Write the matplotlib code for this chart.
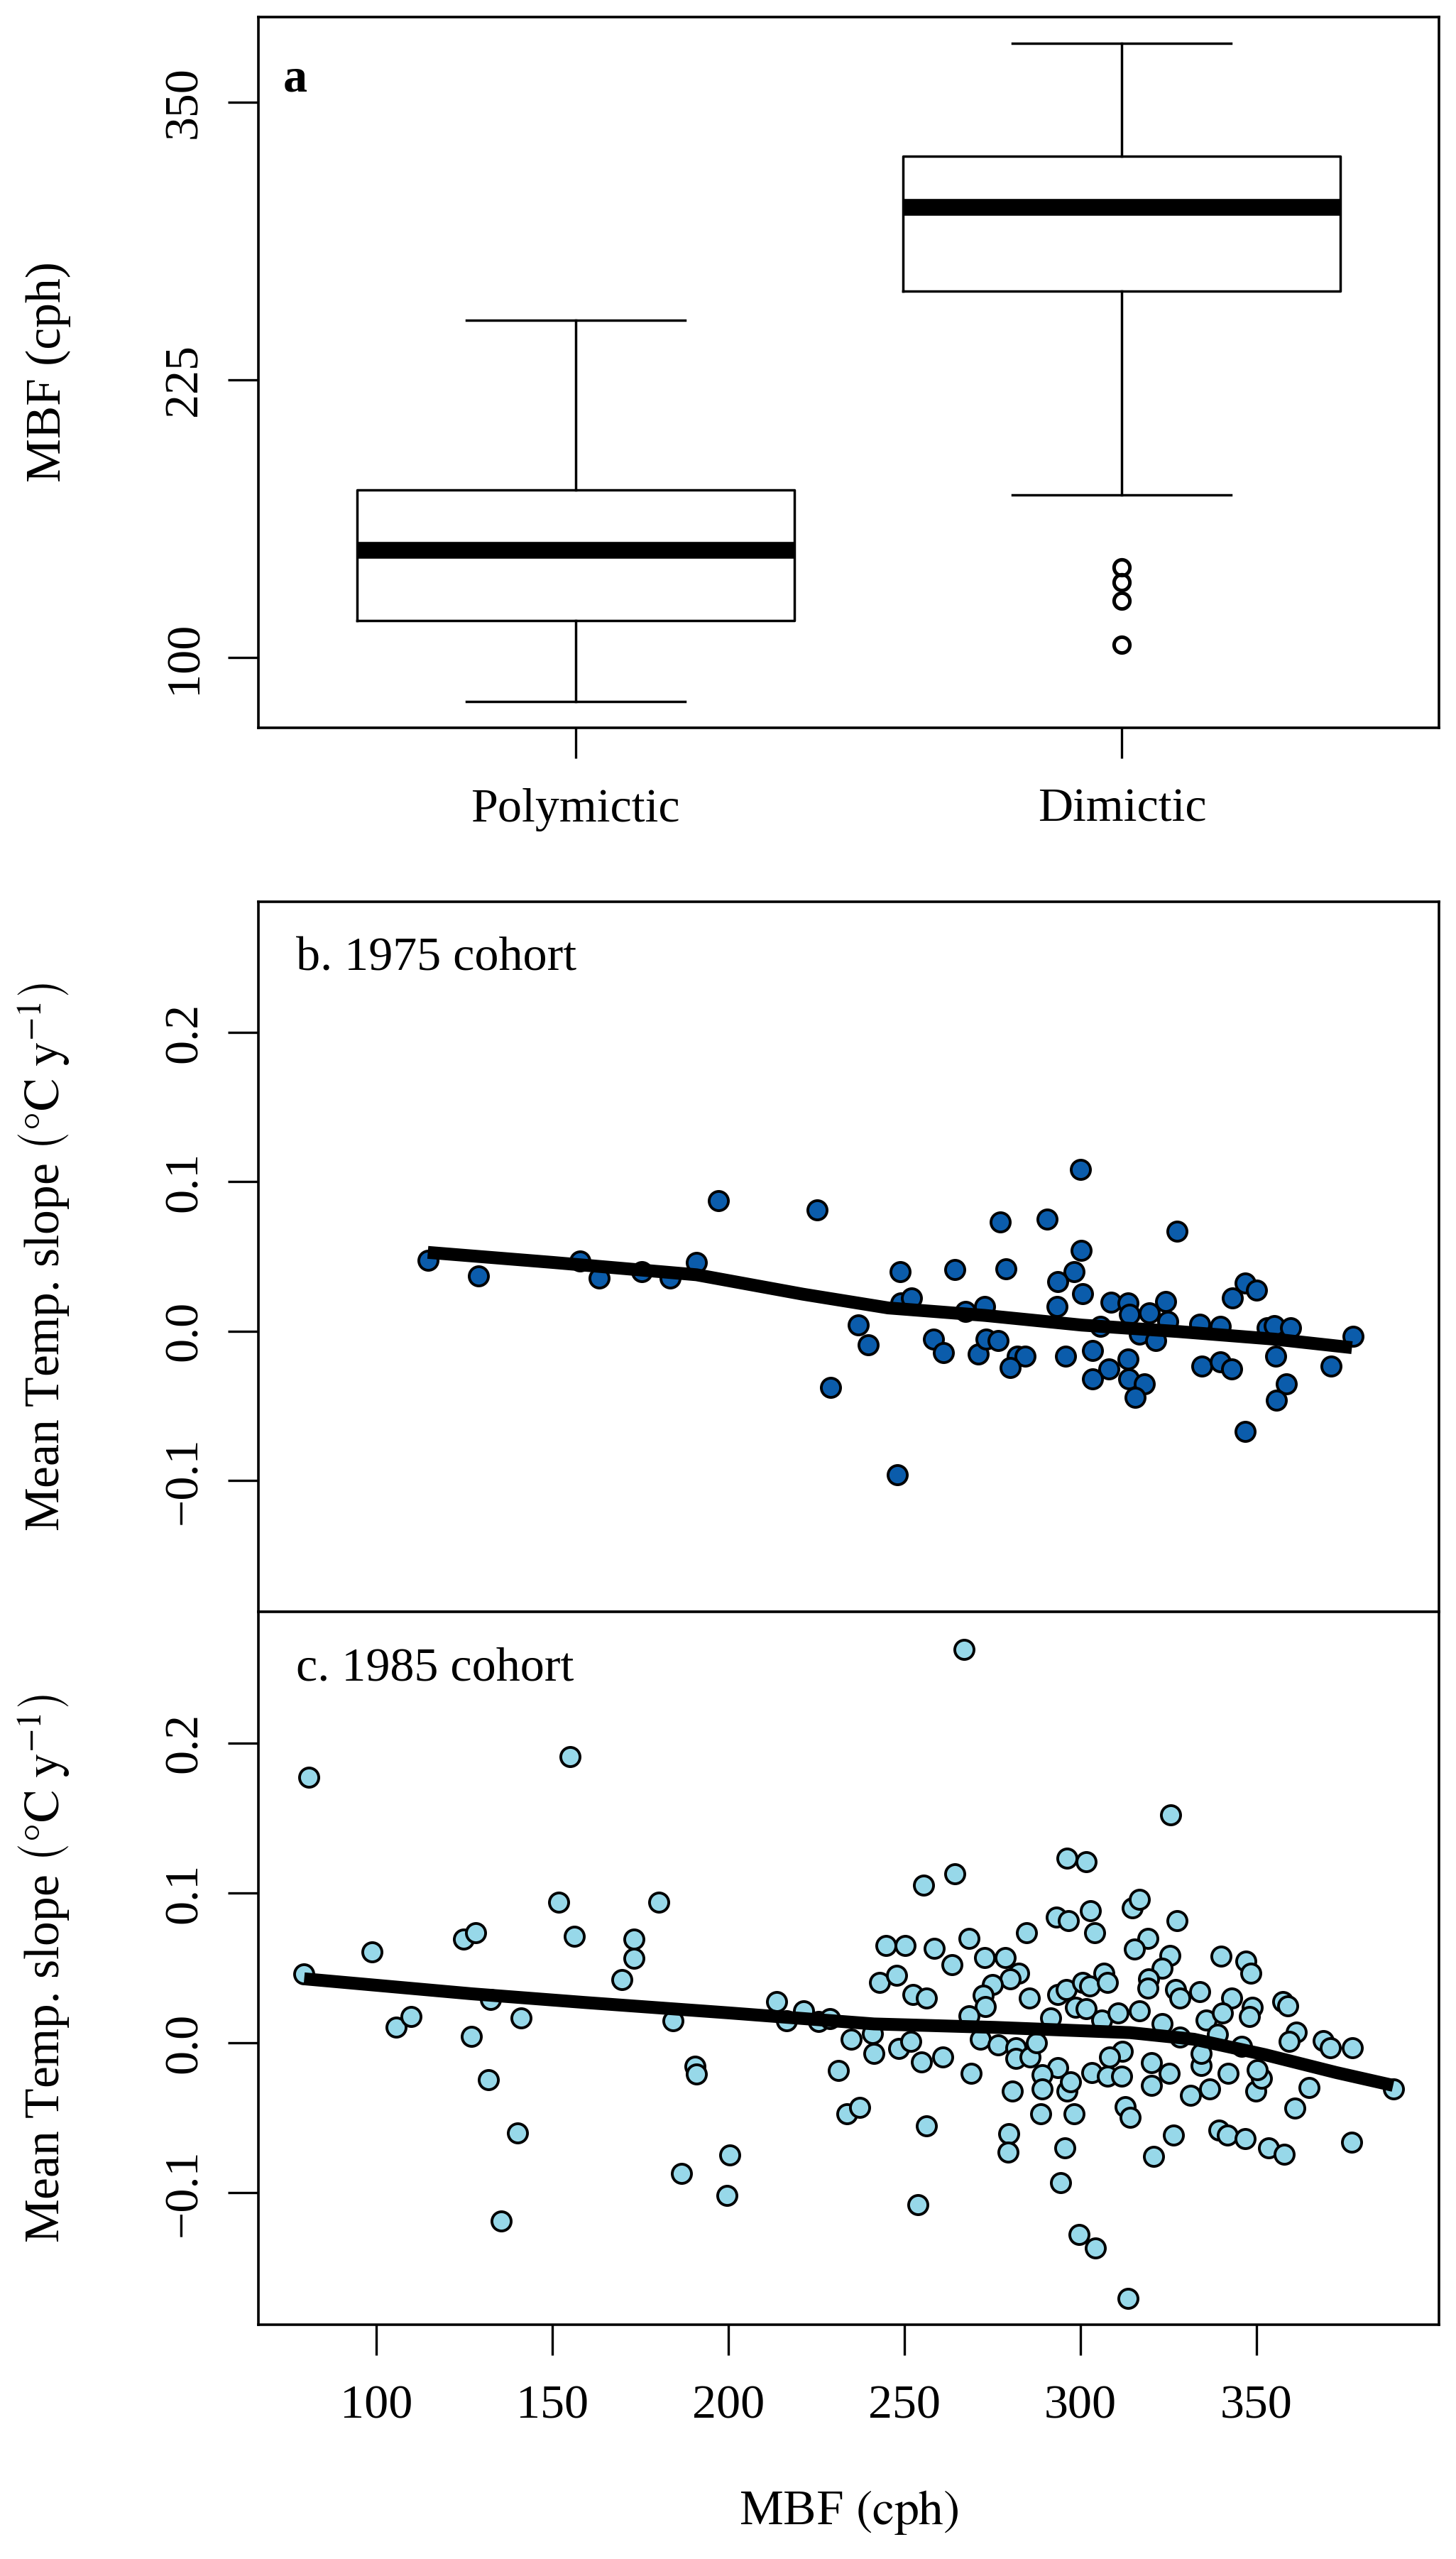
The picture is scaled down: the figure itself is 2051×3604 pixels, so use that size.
import numpy as np
import matplotlib
matplotlib.use("Agg")
import matplotlib.pyplot as plt

plt.rcParams['font.family'] = ['Liberation Serif', 'DejaVu Serif']
plt.rcParams['mathtext.fontset'] = 'stix'
plt.rcParams['axes.unicode_minus'] = True

# ---------------- Panel a: box plot of MBF by mixing type ----------------
mixing_types = ['Polymictic', 'Dimictic']
box_whislo = [80.3, 173.2]
box_q1 = [116.8, 265.0]
box_med = [148.5, 302.6]
box_q3 = [175.5, 325.7]
box_whishi = [252.0, 376.5]
polymictic_outliers = []
dimictic_outliers = [140.7, 133.9, 125.6, 106.0]

# ---------------- Panel b: 1975 cohort ----------------
b_mbf = [114.7, 129.1, 157.9, 163.3, 175.4, 183.5, 191.0, 197.3, 225.3, 237.0,
         239.7, 229.1, 248.1, 248.9, 249.0, 252.0, 264.3, 278.8, 277.2, 290.5,
         300.0, 327.4, 300.3, 298.2, 293.6, 300.7, 293.4, 267.3, 272.8, 258.2,
         261.1, 271.0, 273.3, 276.7, 282.0, 284.2, 280.1, 295.7, 303.5, 305.7,
         308.7, 313.5, 314.0, 319.5, 324.2, 324.9, 316.7, 321.3, 313.5, 308.0,
         303.5, 313.8, 318.1, 315.6, 333.9, 339.7, 334.5, 339.7, 343.0, 343.2,
         346.7, 349.9, 353.1, 355.1, 359.7, 355.4, 358.5, 355.6, 346.7, 371.1,
         377.5]
b_slope = [0.0472, 0.0369, 0.047, 0.0355, 0.040, 0.0355, 0.0458, 0.0872, 0.081, 0.0042,
           -0.0091, -0.0378, -0.0962, 0.0397, 0.0189, 0.0222, 0.0414, 0.0417, 0.0731, 0.0751,
           0.1084, 0.0667, 0.0539, 0.0397, 0.033, 0.025, 0.0163, 0.013, 0.0163, -0.0053,
           -0.0145, -0.0154, -0.0054, -0.0062, -0.0167, -0.017, -0.0245, -0.017, -0.0128, 0.003,
           0.0194, 0.0189, 0.0113, 0.0122, 0.020, 0.0063, -0.002, -0.0062, -0.0186, -0.0253,
           -0.032, -0.032, -0.0354, -0.0446, 0.0047, 0.0033, -0.0237, -0.0204, -0.0253, 0.0222,
           0.0322, 0.0272, 0.0022, 0.0038, 0.0022, -0.017, -0.0354, -0.0462, -0.067, -0.0234,
           -0.0036]
b_smooth_x = [114.7, 150.0, 191.0, 221.2, 245.4, 272.8, 300.4, 327.7, 355.1, 377.1]
b_smooth_y = [0.0527, 0.0460, 0.0377, 0.0247, 0.0155, 0.0105, 0.0040, -0.0003, -0.0054, -0.0111]

# ---------------- Panel c: 1985 cohort ----------------
c_mbf = [81.0, 79.6, 98.9, 155.0, 151.8, 156.3, 180.3, 124.8, 128.3, 173.2,
         173.2, 169.8, 105.8, 109.9, 132.6, 141.1, 127.0, 132.0, 140.2, 135.5,
         184.4, 190.6, 191.0, 200.4, 186.7, 199.7, 213.8, 216.5, 221.3, 225.6,
         228.8, 235.0, 231.2, 233.6, 237.3,
         255.5, 264.4, 296.2, 301.6, 284.6, 293.2, 296.5, 302.8, 304.0, 244.7,
         250.2, 258.5, 263.6, 268.3, 272.7, 278.7, 282.4, 280.1, 275.0, 272.3,
         273.0, 268.3, 243.0, 247.8, 252.5, 256.2, 285.4, 293.5, 295.9, 300.6,
         302.6, 306.6, 307.7, 298.6, 301.6, 291.5, 306.0, 310.7, 241.0, 241.4,
         248.4, 251.8, 254.8, 260.9, 269.0, 271.6, 276.7, 281.7, 281.7, 285.8,
         287.5, 293.5, 289.2, 289.2, 296.2, 297.2, 303.3, 307.7, 311.7, 312.0,
         308.3, 280.7, 279.7, 279.4, 288.8, 298.2, 295.5, 256.2, 312.7,
         294.3, 253.9, 299.6, 304.3, 313.6, 266.9, 325.7,
         314.7, 316.7, 327.5, 319.1, 315.4, 325.5, 340.0, 347.0, 348.4, 323.1,
         319.4, 319.1, 327.1, 328.2, 333.9, 343.0, 348.7, 348.0, 357.5, 358.8,
         316.7, 323.1, 335.6, 340.3, 361.2, 359.2, 368.9, 370.9, 377.3, 388.8,
         364.9, 360.8, 377.0, 349.7, 351.4, 342.0, 336.6, 331.2, 334.2, 334.2,
         325.2, 320.1, 320.1, 314.1, 326.5, 320.8, 339.3, 341.7, 346.7, 353.5,
         357.8, 328.2, 339.0, 345.8, 350.1]
c_slope = [0.177, 0.046, 0.0605, 0.191, 0.094, 0.071, 0.094, 0.069, 0.0735, 0.069,
           0.0565, 0.042, 0.0106, 0.0174, 0.029, 0.0168, 0.0045, -0.0248, -0.060, -0.1187,
           0.0146, -0.0156, -0.021, -0.075, -0.087, -0.1018, 0.0277, 0.0146, 0.0212, 0.014,
           0.016, 0.0025, -0.0184, -0.0472, -0.0429,
           0.105, 0.1127, 0.1232, 0.1209, 0.0735, 0.0837, 0.0814, 0.088, 0.0735, 0.0648,
           0.0648, 0.0632, 0.0521, 0.0695, 0.0569, 0.0569, 0.0466, 0.0427, 0.0387, 0.0316,
           0.0242, 0.0182, 0.0403, 0.045, 0.0324, 0.030, 0.030, 0.0324, 0.0355, 0.0403,
           0.0379, 0.0466, 0.0403, 0.0237, 0.0229, 0.0166, 0.015, 0.0198, 0.0063, -0.0071,
           -0.004, 0.0008, -0.0126, -0.0095, -0.0205, 0.0024, -0.0016, -0.0032, -0.0103, -0.0095,
           0.0, -0.0166, -0.0213, -0.0308, -0.0324, -0.0261, -0.0198, -0.0221, -0.0221, -0.0055,
           -0.0095, -0.0324, -0.0608, -0.0727, -0.0474, -0.0474, -0.0703, -0.0553, -0.0427,
           -0.0933, -0.1079, -0.1278, -0.137, -0.1706, 0.2622, 0.1521,
           0.090, 0.0956, 0.0814, 0.0695, 0.0624, 0.0584, 0.0577, 0.0545, 0.0466, 0.0498,
           0.0427, 0.0363, 0.0355, 0.030, 0.034, 0.030, 0.0237, 0.0174, 0.0276, 0.0245,
           0.0213, 0.0127, 0.015, 0.0198, 0.0071, 0.0008, 0.0016, -0.0032, -0.0032, -0.0308,
           -0.030, -0.0435, -0.0664, -0.0324, -0.0237, -0.0205, -0.0308, -0.0348, -0.015, -0.0071,
           -0.0205, -0.0134, -0.0284, -0.0498, -0.0616, -0.0758, -0.0584, -0.0616, -0.064, -0.0703,
           -0.0743, 0.0039, 0.0055, -0.0024, -0.0182]
c_smooth_x = [79.6, 127.2, 159.3, 200.0, 241.4, 275.7, 314.1, 332.2, 352.4, 372.6, 388.8]
c_smooth_y = [0.0427, 0.0327, 0.0269, 0.0200, 0.0126, 0.0103, 0.0068, 0.0024, -0.0079, -0.0198, -0.0284]

slope_yticks = [-0.1, 0.0, 0.1, 0.2]
mbf_xticks = [100, 150, 200, 250, 300, 350]
mbf_box_yticks = [100, 225, 350]

col_1975 = '#0b5cab'
col_1985 = '#97d8e9'

# ---------------- figure ----------------
W, H = 2051, 3604
fig = plt.figure(figsize=(W / 200, H / 200), dpi=200)

L, R = 364, 2027


def rect(top, bottom):
    return [L / W, 1 - bottom / H, (R - L) / W, (bottom - top) / H]


axA = fig.add_axes(rect(24, 1025))
axB = fig.add_axes(rect(1270, 2270))
axC = fig.add_axes(rect(2270, 3274))

FS = 24.5
tick_kw = dict(direction='out', length=15.5, width=1.2, labelsize=FS)

for ax in (axA, axB, axC):
    for sp in ax.spines.values():
        sp.set_linewidth(1.3)
    ax.tick_params(**tick_kw)

# Panel a
stats = []
fliers = [polymictic_outliers, dimictic_outliers]
for i, name in enumerate(mixing_types):
    stats.append(dict(label=name, whislo=box_whislo[i], q1=box_q1[i], med=box_med[i],
                      q3=box_q3[i], whishi=box_whishi[i], fliers=fliers[i]))
pos = np.arange(1, len(mixing_types) + 1)
axA.bxp(stats, positions=pos, widths=0.8, capwidths=0.4, showfliers=True,
        boxprops=dict(color='black', linewidth=1.25),
        whiskerprops=dict(color='black', linewidth=1.25),
        capprops=dict(color='black', linewidth=1.25),
        medianprops=dict(color='black', linewidth=8.5, solid_capstyle='butt'),
        flierprops=dict(marker='o', markerfacecolor='none', markeredgecolor='black',
                        markersize=8, markeredgewidth=1.8))
n = len(mixing_types)
axA.set_xlim(0.5 - 0.04 * n, n + 0.5 + 0.04 * n)
lo = min(box_whislo + dimictic_outliers)
hi = max(box_whishi)
ext = 0.04 * (hi - lo)
axA.set_ylim(lo - ext, hi + ext)
axA.set_xticks(pos)
axA.set_xticklabels(mixing_types)
axA.set_yticks(mbf_box_yticks)
axA.set_yticklabels([str(v) for v in mbf_box_yticks])
axA.tick_params(axis='x', pad=15)
axA.text(0.021, 0.912, 'a', transform=axA.transAxes, fontsize=FS, fontweight='bold',
         ha='left', va='center')

# Panels b and c
xlim = (66.6, 401.8)
ylim = (-0.188, 0.2875)
for ax, xs, ys, sx, sy, col, lab in (
        (axB, b_mbf, b_slope, b_smooth_x, b_smooth_y, col_1975, 'b. 1975 cohort'),
        (axC, c_mbf, c_slope, c_smooth_x, c_smooth_y, col_1985, 'c. 1985 cohort')):
    ax.scatter(xs, ys, s=95, facecolor=col, edgecolor='black', linewidths=1.4, zorder=2)
    ax.plot(sx, sy, color='black', linewidth=6.5, solid_capstyle='butt', zorder=3)
    ax.set_xlim(*xlim)
    ax.set_ylim(*ylim)
    ax.set_yticks(slope_yticks)
    ax.set_yticklabels([f'{v:.1f}'.replace('-', '\u2212') for v in slope_yticks])
    ax.text(0.032, 0.92, lab, transform=ax.transAxes, fontsize=FS, ha='left', va='center')

axB.set_xticks(mbf_xticks)
axB.tick_params(axis='x', bottom=False, labelbottom=False)
axC.set_xticks(mbf_xticks)
axC.set_xticklabels([str(v) for v in mbf_xticks])
axC.tick_params(axis='x', pad=15)

for ax in (axA, axB, axC):
    ax.tick_params(axis='y', pad=11)
    for t in ax.get_yticklabels():
        t.set_rotation(90)
        t.set_va('center')
        t.set_ha('right')

# axis labels
fig.text(68 / W, 1 - 524 / H, 'MBF (cph)', rotation=90, ha='center', va='center', fontsize=25)
ylab = r'Mean Temp. slope $\left(\degree\mathrm{C\ y}^{-1}\right)$'
fig.text(62 / W, 1 - 1770 / H, ylab, rotation=90, ha='center', va='center', fontsize=25)
fig.text(62 / W, 1 - 2772 / H, ylab, rotation=90, ha='center', va='center', fontsize=25)
fig.text((L + R) / 2 / W, 1 - 3538 / H, r'MBF $\left(\mathrm{cph}\right)$', ha='center',
         va='center', fontsize=25)

fig.savefig('out.png', dpi=200, facecolor='white')
